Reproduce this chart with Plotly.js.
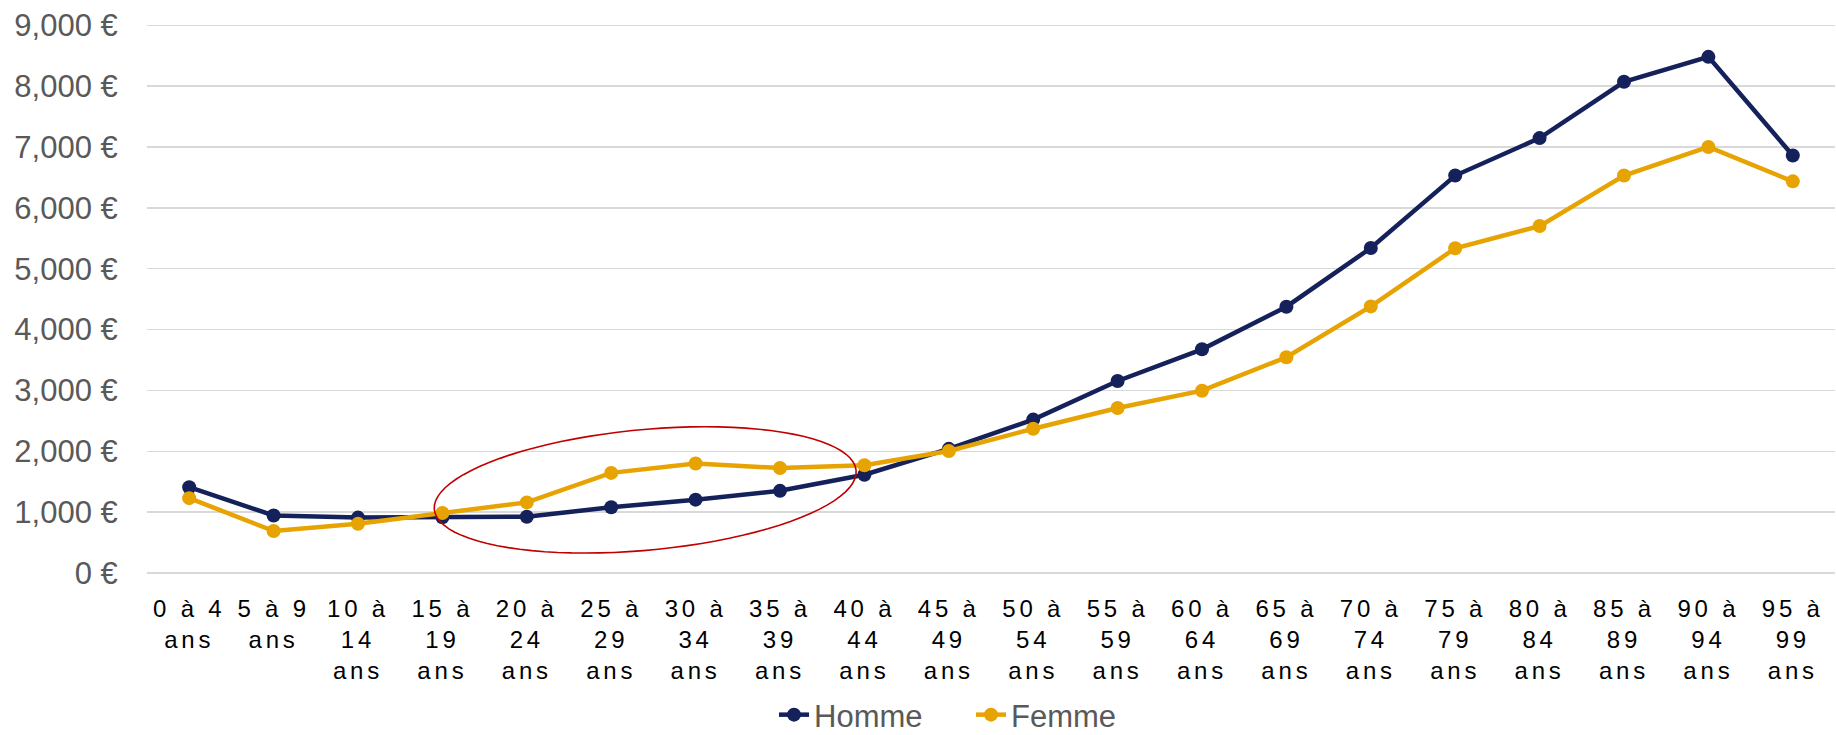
<!DOCTYPE html>
<html>
<head>
<meta charset="utf-8">
<script src="https://cdn.plot.ly/plotly-3.0.1.min.js"></script>
<style>
  html, body { margin: 0; padding: 0; background: #fff; }
  #chart { width: 1836px; height: 735px; }
  .xtick text { letter-spacing: 3.8px !important; }
</style>
</head>
<body>
<div id="chart"></div>
<script>
// ---- Data ----
const categories = ["0 à 4 ans","5 à 9 ans","10 à 14 ans","15 à 19 ans","20 à 24 ans","25 à 29 ans","30 à 34 ans","35 à 39 ans","40 à 44 ans","45 à 49 ans","50 à 54 ans","55 à 59 ans","60 à 64 ans","65 à 69 ans","70 à 74 ans","75 à 79 ans","80 à 84 ans","85 à 89 ans","90 à 94 ans","95 à 99 ans"];
const tickLabels = ["0 à 4<br>ans","5 à 9<br>ans","10 à<br>14<br>ans","15 à<br>19<br>ans","20 à<br>24<br>ans","25 à<br>29<br>ans","30 à<br>34<br>ans","35 à<br>39<br>ans","40 à<br>44<br>ans","45 à<br>49<br>ans","50 à<br>54<br>ans","55 à<br>59<br>ans","60 à<br>64<br>ans","65 à<br>69<br>ans","70 à<br>74<br>ans","75 à<br>79<br>ans","80 à<br>84<br>ans","85 à<br>89<br>ans","90 à<br>94<br>ans","95 à<br>99<br>ans"];
const homme = [1410, 945, 910, 915, 925, 1080, 1205, 1350, 1615, 2040, 2520, 3155, 3675, 4375, 5340, 6530, 7145, 8070, 8480, 6860];
const femme = [1230, 690, 810, 985, 1160, 1645, 1800, 1725, 1770, 2005, 2370, 2710, 2995, 3545, 4380, 5335, 5700, 6530, 7000, 6435];
const yTickVals = [0, 1000, 2000, 3000, 4000, 5000, 6000, 7000, 8000, 9000];
const yTickText = ["0 €", "1,000 €", "2,000 €", "3,000 €", "4,000 €", "5,000 €", "6,000 €", "7,000 €", "8,000 €", "9,000 €"];

// ---- Layout geometry ----
const W = 1836, H = 735;
const yMax = 9020;
const mL = 147, mR = 1, mB = 162;
const plotH = Math.round(548 * yMax / 9000);
const mT = H - mB - plotH;
const plotW = W - mL - mR;

// highlight ellipse (annotation, pixel geometry -> paper coords)
function ellipsePath(cx, cy, a, b, thetaDeg) {
  const th = thetaDeg * Math.PI / 180;
  let d = "";
  const n = 90;
  for (let i = 0; i <= n; i++) {
    const t = 2 * Math.PI * i / n;
    const px = cx + a * Math.cos(t) * Math.cos(th) - b * Math.sin(t) * Math.sin(th);
    const py = cy + a * Math.cos(t) * Math.sin(th) + b * Math.sin(t) * Math.cos(th);
    const xp = (px - mL) / plotW;
    const yp = (H - mB - py) / plotH;
    d += (i === 0 ? "M" : "L") + xp.toFixed(5) + "," + yp.toFixed(5);
  }
  return d + "Z";
}

const font = "Liberation Sans, Arial, Helvetica, sans-serif";

const traces = [
  {
    x: categories, y: homme, name: "Homme", type: "scatter", mode: "lines+markers",
    line: { color: "#14215A", width: 4.5 },
    marker: { color: "#14215A", size: 14 }
  },
  {
    x: categories, y: femme, name: "Femme", type: "scatter", mode: "lines+markers",
    line: { color: "#E7A302", width: 4.5 },
    marker: { color: "#E7A302", size: 14 }
  }
];

const layout = {
  width: W, height: H,
  margin: { l: mL, r: mR, t: mT, b: mB, pad: 0, autoexpand: false },
  paper_bgcolor: "#ffffff",
  plot_bgcolor: "#ffffff",
  font: { family: font, color: "#595959" },
  showlegend: true,
  legend: {
    orientation: "h",
    x: (814 - 40 - mL) / plotW, xanchor: "left",
    y: (H - mB - 715) / plotH, yanchor: "middle",
    font: { family: font, size: 31, color: "#595959" },
    entrywidth: 152,
    entrywidthmode: "pixels",
    traceorder: "normal"
  },
  xaxis: {
    type: "category",
    range: [-0.5, 19.5],
    tickvals: categories,
    ticktext: tickLabels,
    tickangle: 0,
    showgrid: false,
    zeroline: false,
    showline: false,
    ticks: "outside",
    ticklen: 14,
    tickcolor: "rgba(0,0,0,0)",
    tickfont: { family: font, size: 24, color: "#000000" },
    fixedrange: true
  },
  yaxis: {
    range: [0, yMax],
    tickvals: yTickVals,
    ticktext: yTickText,
    showgrid: true,
    gridcolor: "#D9D9D9",
    gridwidth: 1.4,
    zeroline: true,
    zerolinecolor: "#D9D9D9",
    zerolinewidth: 1.4,
    showline: false,
    ticks: "outside",
    ticklen: 22,
    tickcolor: "rgba(0,0,0,0)",
    tickfont: { family: font, size: 31, color: "#595959" },
    fixedrange: true
  },
  shapes: [
    {
      type: "path",
      xref: "paper", yref: "paper",
      path: ellipsePath(645.2, 489.9, 211.8, 60.3, -5.3),
      line: { color: "#C00000", width: 1.6 },
      fillcolor: "rgba(0,0,0,0)",
      layer: "above"
    }
  ]
};

Plotly.newPlot("chart", traces, layout, { staticPlot: true, displayModeBar: false });
</script>
</body>
</html>
